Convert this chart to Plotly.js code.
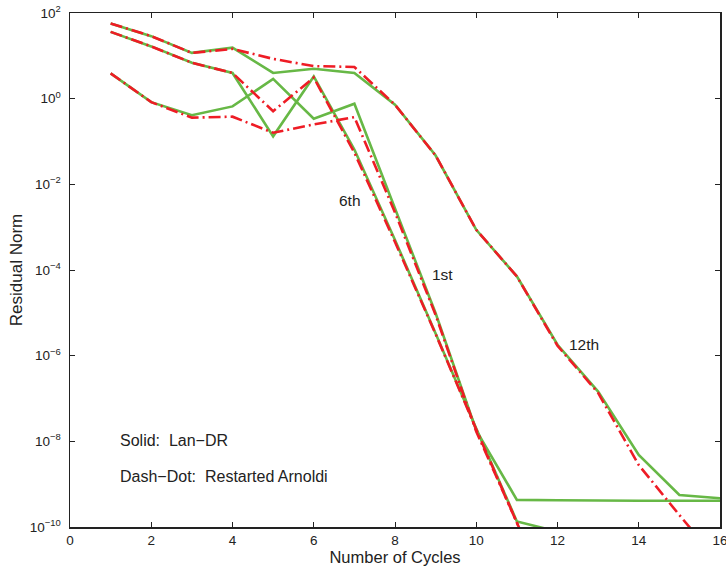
<!DOCTYPE html>
<html>
<head>
<meta charset="utf-8">
<script src="https://cdn.plot.ly/plotly-3.0.1.min.js"></script>
<style>html,body{margin:0;padding:0;background:#fff;}#plot{width:726px;height:571px;}</style>
</head>
<body>
<div id="plot"></div>
<script>
// Cycle numbers
const cycles = [1,2,3,4,5,6,7,8,9,10,11,12,13,14,15,16];
const cyclesShort = [1,2,3,4,5,6,7,8,9,10,11,12];

// Lan-DR (solid) residual norms
const lanDR12th = [56.9,28.8,11.7,15.5,3.98,5.0,3.98,0.72,0.047,8.7e-4,7.1e-5,1.8e-6,1.45e-7,4.8e-9,5.6e-10,4.7e-10];
const lanDR6th  = [36.3,16.6,6.9,3.98,0.132,3.3,0.065,5.0e-4,3.3e-6,2.0e-8,1.35e-10,7.8e-11];
const lanDR1st  = [3.9,0.83,0.41,0.66,2.9,0.34,0.76,2.6e-3,9.8e-6,1.8e-8,4.3e-10,4.2e-10,4.1e-10,4.1e-10,4.1e-10,4.1e-10];

// Restarted Arnoldi (dash-dot) residual norms
const arn12th = [56.9,28.8,11.7,14.5,8.5,5.75,5.5,0.72,0.047,8.7e-4,7.1e-5,1.7e-6,1.35e-7,2.8e-9,1.9e-10,1.4e-11];
const arn6th  = [36.3,16.6,6.9,3.98,0.51,3.1,0.055,4.5e-4,3.2e-6,1.9e-8,1.26e-10,1e-12];
const arn1st  = [3.9,0.83,0.36,0.38,0.16,0.25,0.37,2.2e-3,8.9e-6,1.7e-8,1.26e-10,1e-12];

// Axis ticks
const xTicks = [0,2,4,6,8,10,12,14,16];
const yTickVals = [1e2,1e0,1e-2,1e-4,1e-6,1e-8,1e-10];
const yTickText = ['10<sup>2</sup>','10<sup>0</sup>','10<sup>−2</sup>','10<sup>−4</sup>','10<sup>−6</sup>','10<sup>−8</sup>','10<sup>−10</sup>'];

const GREEN = '#67b846';
const RED = '#ee1c25';

function solid(x, y) {
  return {x: x, y: y, mode: 'lines', type: 'scatter', line: {color: GREEN, width: 2.6}, hoverinfo: 'skip', showlegend: false};
}
function dashdot(x, y) {
  return {x: x, y: y, mode: 'lines', type: 'scatter', line: {color: RED, width: 2.6, dash: '12px,4px,2px,4px'}, hoverinfo: 'skip', showlegend: false};
}

const data = [
  solid(cycles, lanDR12th),
  solid(cyclesShort, lanDR6th),
  solid(cycles, lanDR1st),
  dashdot(cycles, arn12th),
  dashdot(cyclesShort, arn6th),
  dashdot(cyclesShort, arn1st)
];

const fontFam = 'Liberation Sans, Arial, Helvetica, sans-serif';
const layout = {
  width: 726, height: 571,
  margin: {l: 70, r: 6, t: 13, b: 44},
  paper_bgcolor: '#fff', plot_bgcolor: '#fff',
  font: {family: fontFam, size: 13.5, color: '#222'},
  xaxis: {
    range: [0, 16], tickvals: xTicks, ticktext: xTicks.map(String),
    ticks: 'inside', ticklen: 5, tickcolor: '#222', tickwidth: 1,
    showline: true, linecolor: '#222', linewidth: 1.5, mirror: 'ticks',
    showgrid: false, zeroline: false, ticklabeloverflow: 'allow',
    tickfont: {size: 13.5},
    title: {text: 'Number of Cycles', font: {size: 16.5}, standoff: 2}
  },
  yaxis: {
    type: 'log', range: [-10, 2], tickvals: yTickVals, ticktext: yTickText,
    ticks: 'inside', ticklen: 5, tickcolor: '#222', tickwidth: 1,
    showline: true, linecolor: '#222', linewidth: 1.5, mirror: 'ticks',
    showgrid: false, zeroline: false, ticklabelstandoff: 5,
    tickfont: {size: 13.5},
    title: {text: 'Residual Norm', font: {size: 17}, standoff: 3}
  },
  annotations: [
    {x: 6.88, y: -2.38, xref: 'x', yref: 'y', text: '6th', showarrow: false, font: {size: 15.5}},
    {x: 9.16, y: -4.11, xref: 'x', yref: 'y', text: '1st', showarrow: false, font: {size: 15.5}},
    {x: 12.65, y: -5.75, xref: 'x', yref: 'y', text: '12th', showarrow: false, font: {size: 15.5}},
    {x: 1.18, y: -7.99, xref: 'x', yref: 'y', text: 'Solid:  Lan−DR', xanchor: 'left', showarrow: false, font: {size: 16}},
    {x: 1.18, y: -8.81, xref: 'x', yref: 'y', text: 'Dash−Dot:  Restarted Arnoldi', xanchor: 'left', showarrow: false, font: {size: 16}}
  ]
};

Plotly.newPlot('plot', data, layout, {displayModeBar: false, staticPlot: true});
</script>
</body>
</html>
